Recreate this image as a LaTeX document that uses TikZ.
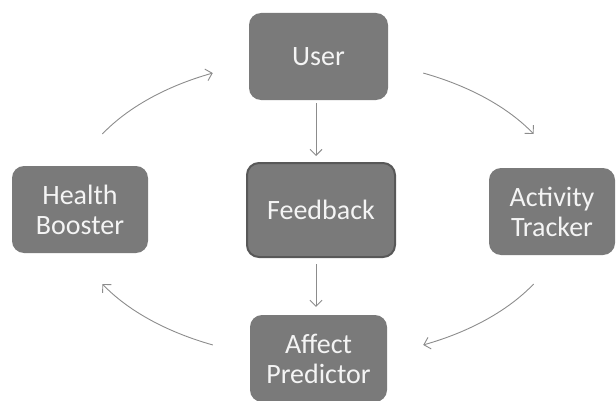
\documentclass[tikz,border=0pt]{standalone}
\usepackage{fontspec}
\setmainfont{Carlito}
\usetikzlibrary{arrows.meta}
\definecolor{boxgray}{RGB}{122,122,122}
\definecolor{boxtext}{RGB}{244,244,244}
\definecolor{edgegray}{RGB}{88,88,88}
\definecolor{arrowgray}{RGB}{140,140,140}

\begin{document}
\begin{tikzpicture}[x=1pt,y=1pt,
  block/.style={fill=boxgray, rounded corners=12pt, text=boxtext, align=center,
    font=\fontsize{28}{30}\selectfont, inner sep=0pt, minimum height=87pt},
  flow/.style={draw=arrowgray, line width=0.9pt, -{Straight Barb[length=6pt,width=12pt]}}]
\useasboundingbox (0,0) rectangle (616,400);

%Blocks
\node [block, minimum width=139pt] (user) at (318.5,343.5) {User};
\node [block, minimum width=148pt, minimum height=94pt, draw=edgegray, line width=2pt] (feedback) at (321,190) {Feedback};
\node [block, minimum width=136pt] (booster) at (80,190.5) {Health\\Booster};
\node [block, minimum width=126pt] (tracker) at (552,188.5) {Activity\\Tracker};
\node [block, minimum width=137pt] (predictor) at (318.5,41.5) {Affect\\Predictor};

%Straight arrows
\draw [flow] ([shift={(-2.5,-3)}]user.south) -- ([shift={(-5,6)}]feedback.north);
\draw [flow] ([shift={(-5,-6)}]feedback.south) -- ([shift={(-2.5,8)}]predictor.north);

%Cycle arrows (parts of one ellipse)
\path (318,191) ++(150:249 and 150) coordinate (hbTop);
\path (318,191) ++(65:249 and 150) coordinate (usRight);
\path (318,191) ++(-30:249 and 150) coordinate (atBottom);
\path (318,191) ++(-115:249 and 150) coordinate (apLeft);
\draw [flow] (hbTop) arc [start angle=150, end angle=115, x radius=249, y radius=150];
\draw [flow] (usRight) arc [start angle=65, end angle=30, x radius=249, y radius=150];
\draw [flow] (atBottom) arc [start angle=-30, end angle=-65, x radius=249, y radius=150];
\draw [flow] (apLeft) arc [start angle=-115, end angle=-150, x radius=249, y radius=150];

\end{tikzpicture}
\end{document}
